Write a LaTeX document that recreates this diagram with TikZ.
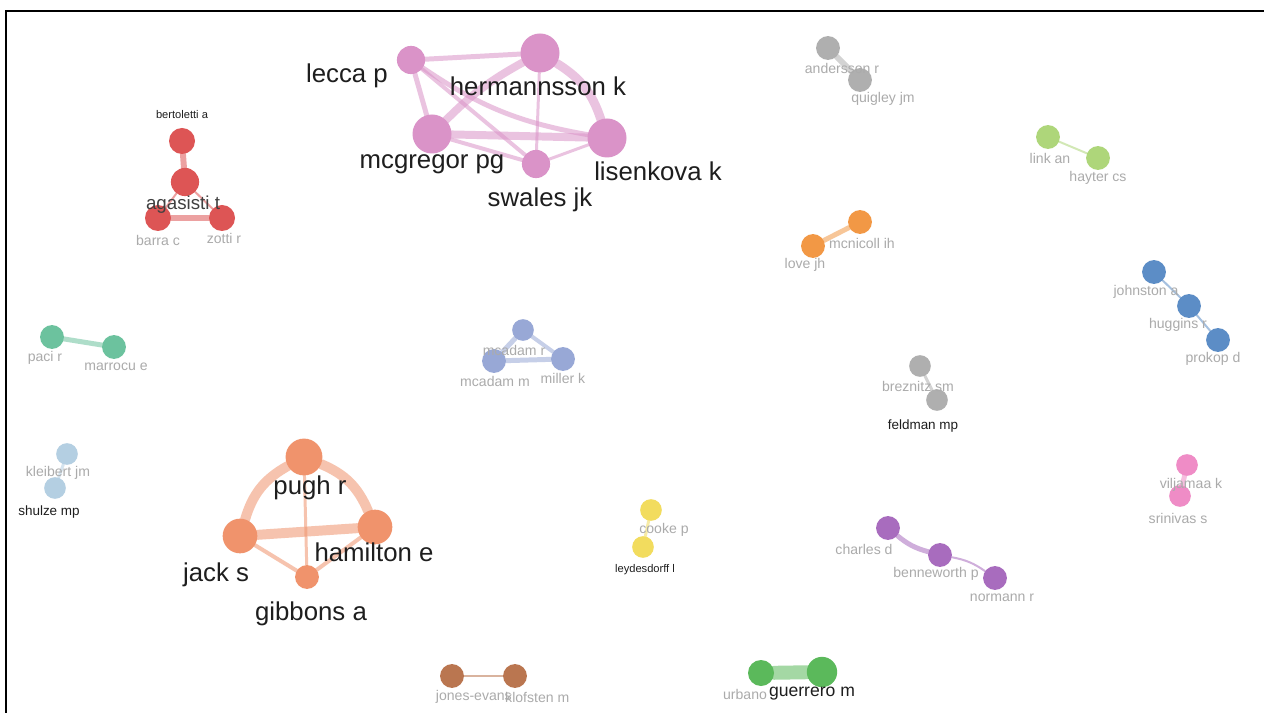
\documentclass[tikz,border=0pt]{standalone}
\usepackage{fontspec}
\setmainfont{Liberation Sans}
\pgfdeclarelayer{bg}
\pgfsetlayers{bg,main}
\definecolor{cred}{HTML}{DD5555}
\definecolor{cpink}{HTML}{DA93C8}
\definecolor{cgray}{HTML}{AFAFAF}
\definecolor{clime}{HTML}{AED67A}
\definecolor{corange}{HTML}{F29845}
\definecolor{cblue}{HTML}{5C8DC6}
\definecolor{cteal}{HTML}{6CC29E}
\definecolor{cperi}{HTML}{98A8D6}
\definecolor{clblue}{HTML}{B4CFE2}
\definecolor{csalmon}{HTML}{F0936C}
\definecolor{cyellow}{HTML}{F2DC5E}
\definecolor{cpurple}{HTML}{A86CBE}
\definecolor{chot}{HTML}{EF8CC6}
\definecolor{cbrown}{HTML}{BA7650}
\definecolor{cgreen}{HTML}{5BB95B}
\definecolor{labgray}{HTML}{ABABAB}
\definecolor{labdark}{HTML}{1E1E1E}
\tikzset{
  nd/.style n args={2}{circle, inner sep=0pt, fill=#1, minimum size={#2*0.065cm}},
  ed/.style n args={2}{draw=#1, line width={#2*0.85pt}, draw opacity=0.55, line cap=round},
  gl/.style={text=labgray, font=\fontsize{12pt}{12pt}\selectfont, inner sep=0pt},
  dl/.style={text=labdark, font=\fontsize{11.5pt}{12pt}\selectfont, inner sep=0pt},
  bl/.style={text=labdark, font=\fontsize{22pt}{22pt}\selectfont, inner sep=0pt},
}
\begin{document}
\begin{tikzpicture}[x=0.03cm,y=-0.03cm]
\useasboundingbox (0,0) rectangle (1264,713);
\begin{pgfonlayer}{bg}
\fill[white] (0,0) rectangle (1264,713);
\end{pgfonlayer}
\draw[line width=2.2pt] (6,713) -- (6,11) -- (1264,11);

% ---------- red cluster
\node[nd={cred}{12}] (bert) at (182,141) {};
\node[nd={cred}{13}] (agas) at (185,182) {};
\node[nd={cred}{12}] (barra) at (158,218) {};
\node[nd={cred}{12}] (zotti) at (222,218) {};
\begin{pgfonlayer}{bg}
\draw[ed={cred}{6}] (bert) -- (agas);
\draw[ed={cred}{2}] (agas) -- (barra);
\draw[ed={cred}{2}] (agas) -- (zotti);
\draw[ed={cred}{6}] (barra) -- (zotti);
\end{pgfonlayer}
\node[dl, font=\fontsize{9.5pt}{10pt}\selectfont] (bert-l) at (182,115) {bertoletti a};
\node[bl, font=\fontsize{16pt}{16pt}\selectfont, text=labdark!85] (agas-l) at (183,205) {agasisti t};
\node[gl] (barra-l) at (158,240) {barra c};
\node[gl] (zotti-l) at (224,238) {zotti r};

% ---------- pink cluster
\node[nd={cpink}{13}] (lecca) at (411,60) {};
\node[nd={cpink}{18}] (herm) at (540,53) {};
\node[nd={cpink}{18}] (mcg) at (432,134) {};
\node[nd={cpink}{13}] (swales) at (536,164) {};
\node[nd={cpink}{18}] (lis) at (607,138) {};
\begin{pgfonlayer}{bg}
\draw[ed={cpink}{5}] (lecca) -- (herm);
\draw[ed={cpink}{5}] (lecca) -- (mcg);
\draw[ed={cpink}{5}] (lecca) to[bend right=12] (lis);
\draw[ed={cpink}{4}] (lecca) -- (swales);
\draw[ed={cpink}{8}] (herm) to[bend right=8] (mcg);
\draw[ed={cpink}{3}] (herm) -- (swales);
\draw[ed={cpink}{9}] (herm) to[bend left=20] (lis);
\draw[ed={cpink}{8}] (mcg) -- (lis);
\draw[ed={cpink}{4}] (mcg) -- (swales);
\draw[ed={cpink}{3}] (swales) -- (lis);
\end{pgfonlayer}
\node[bl] (lecca-l) at (347,76) {lecca p};
\node[bl] (herm-l) at (538,86) {hermannsson k};
\node[bl] (mcg-l) at (432,164) {mcgregor pg};
\node[bl] (swales-l) at (540,200) {swales jk};
\node[bl] (lis-l) at (658,171) {lisenkova k};

% ---------- gray (andersson)
\node[nd={cgray}{11}] (and) at (828,48) {};
\node[nd={cgray}{11}] (quig) at (860,80) {};
\begin{pgfonlayer}{bg}
\draw[ed={cgray}{6}] (and) -- (quig);
\end{pgfonlayer}
\node[gl] (and-l) at (842,68) {andersson r};
\node[gl] (quig-l) at (883,99) {quigley jm};

% ---------- light green
\node[nd={clime}{11}] (link) at (1048,137) {};
\node[nd={clime}{11}] (hayt) at (1098,158) {};
\begin{pgfonlayer}{bg}
\draw[ed={clime}{2}] (link) -- (hayt);
\end{pgfonlayer}
\node[gl] (link-l) at (1050,158) {link an};
\node[gl] (hayt-l) at (1098,178) {hayter cs};

% ---------- orange
\node[nd={corange}{11}] (mcn) at (860,222) {};
\node[nd={corange}{11}] (love) at (813,246) {};
\begin{pgfonlayer}{bg}
\draw[ed={corange}{5}] (mcn) -- (love);
\end{pgfonlayer}
\node[gl] (mcn-l) at (862,243) {mcnicoll ih};
\node[gl] (love-l) at (805,265) {love jh};

% ---------- steel blue
\node[nd={cblue}{11}] (john) at (1154,272) {};
\node[nd={cblue}{11}] (hugg) at (1189,306) {};
\node[nd={cblue}{11}] (prok) at (1218,340) {};
\begin{pgfonlayer}{bg}
\draw[ed={cblue}{2}] (john) -- (hugg);
\draw[ed={cblue}{2}] (hugg) -- (prok);
\end{pgfonlayer}
\node[gl] (john-l) at (1146,292) {johnston a};
\node[gl] (hugg-l) at (1178,325) {huggins r};
\node[gl] (prok-l) at (1213,359) {prokop d};

% ---------- teal
\node[nd={cteal}{11}] (paci) at (52,337) {};
\node[nd={cteal}{11}] (marr) at (114,347) {};
\begin{pgfonlayer}{bg}
\draw[ed={cteal}{5}] (paci) -- (marr);
\end{pgfonlayer}
\node[gl] (paci-l) at (45,358) {paci r};
\node[gl] (marr-l) at (116,367) {marrocu e};

% ---------- periwinkle
\node[nd={cperi}{10}] (mcr) at (523,330) {};
\node[nd={cperi}{11}] (mcm) at (494,361) {};
\node[nd={cperi}{11}] (mill) at (563,359) {};
\begin{pgfonlayer}{bg}
\draw[ed={cperi}{5}] (mcr) -- (mcm);
\draw[ed={cperi}{4}] (mcr) -- (mill);
\draw[ed={cperi}{5}] (mcm) -- (mill);
\end{pgfonlayer}
\node[gl] (mcr-l) at (514,350) {mcadam r};
\node[gl] (mcm-l) at (495,381) {mcadam m};
\node[gl] (mill-l) at (563,378) {miller k};

% ---------- gray (breznitz)
\node[nd={cgray}{10}] (brez) at (920,366) {};
\node[nd={cgray}{10}] (feld) at (937,400) {};
\begin{pgfonlayer}{bg}
\draw[ed={cgray}{3}] (brez) -- (feld);
\end{pgfonlayer}
\node[gl] (brez-l) at (918,386) {breznitz sm};
\node[dl] (feld-l) at (923,426) {feldman mp};

% ---------- light blue
\node[nd={clblue}{10}] (kleib) at (67,454) {};
\node[nd={clblue}{10}] (shul) at (55,488) {};
\begin{pgfonlayer}{bg}
\draw[ed={clblue}{3}] (kleib) -- (shul);
\end{pgfonlayer}
\node[gl] (kleib-l) at (58,473) {kleibert jm};
\node[dl] (shul-l) at (49,512) {shulze mp};

% ---------- salmon
\node[nd={csalmon}{17}] (pugh) at (304,457) {};
\node[nd={csalmon}{16}] (jack) at (240,536) {};
\node[nd={csalmon}{16}] (ham) at (375,527) {};
\node[nd={csalmon}{11}] (gibb) at (307,577) {};
\begin{pgfonlayer}{bg}
\draw[ed={csalmon}{10}] (pugh) to[bend right=22] (jack);
\draw[ed={csalmon}{10}] (pugh) to[bend left=22] (ham);
\draw[ed={csalmon}{3}] (pugh) -- (gibb);
\draw[ed={csalmon}{10}] (jack) -- (ham);
\draw[ed={csalmon}{4}] (jack) -- (gibb);
\draw[ed={csalmon}{4}] (ham) -- (gibb);
\end{pgfonlayer}
\node[bl] (pugh-l) at (310,488) {pugh r};
\node[bl] (jack-l) at (216,575) {jack s};
\node[bl] (ham-l) at (374,552) {hamilton e};
\node[bl] (gibb-l) at (311,614) {gibbons a};

% ---------- yellow
\node[nd={cyellow}{10}] (cooke) at (651,510) {};
\node[nd={cyellow}{10}] (leyd) at (643,547) {};
\begin{pgfonlayer}{bg}
\draw[ed={cyellow}{3}] (cooke) -- (leyd);
\end{pgfonlayer}
\node[gl] (cooke-l) at (664,530) {cooke p};
\node[dl, font=\fontsize{9.5pt}{10pt}\selectfont] (leyd-l) at (645,570) {leydesdorff l};

% ---------- purple
\node[nd={cpurple}{11}] (charl) at (888,528) {};
\node[nd={cpurple}{11}] (benn) at (940,555) {};
\node[nd={cpurple}{11}] (norm) at (995,578) {};
\begin{pgfonlayer}{bg}
\draw[ed={cpurple}{5}] (charl) to[bend right=12] (benn);
\draw[ed={cpurple}{2}] (benn) to[bend left=12] (norm);
\end{pgfonlayer}
\node[gl] (charl-l) at (864,549) {charles d};
\node[gl] (benn-l) at (936,574) {benneworth p};
\node[gl] (norm-l) at (1002,598) {normann r};

% ---------- hot pink
\node[nd={chot}{10}] (vilj) at (1187,465) {};
\node[nd={chot}{10}] (srin) at (1180,496) {};
\begin{pgfonlayer}{bg}
\draw[ed={chot}{5}] (vilj) -- (srin);
\end{pgfonlayer}
\node[gl] (vilj-l) at (1191,485) {viljamaa k};
\node[gl] (srin-l) at (1178,518) {srinivas s};

% ---------- brown
\node[nd={cbrown}{11}] (jones) at (452,676) {};
\node[nd={cbrown}{11}] (klof) at (515,676) {};
\begin{pgfonlayer}{bg}
\draw[ed={cbrown}{3}] (jones) -- (klof);
\end{pgfonlayer}
\node[gl, anchor=east] (jones-l) at (512,697) {jones-evans};
\node[gl, anchor=west] (klof-l) at (505,697) {klofsten m};

% ---------- green
\node[nd={cgreen}{12}] (urb) at (761,673) {};
\node[nd={cgreen}{14}] (guer) at (822,672) {};
\begin{pgfonlayer}{bg}
\draw[ed={cgreen}{14}] (urb) -- (guer);
\end{pgfonlayer}
\node[gl] (urb-l) at (745,694) {urbano};
\node[dl, font=\fontsize{15pt}{15pt}\selectfont] (guer-l) at (812,694) {guerrero m};
\end{tikzpicture}
\end{document}
